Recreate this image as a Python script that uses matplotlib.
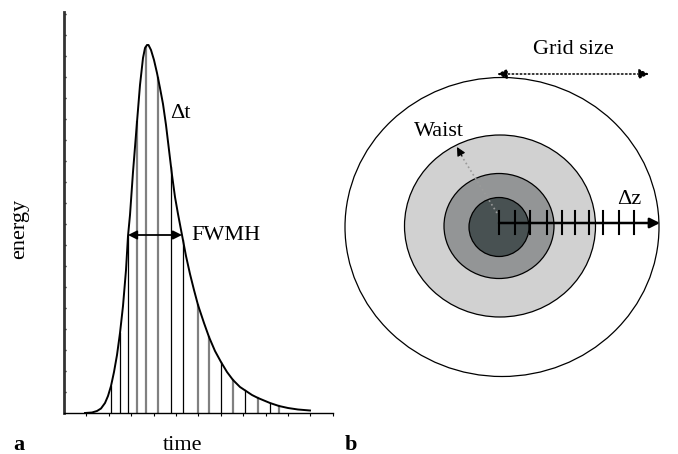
import numpy as np
import matplotlib
matplotlib.use('Agg')
import matplotlib.pyplot as plt
from matplotlib.patches import Ellipse

plt.rcParams['font.family'] = ['Liberation Serif', 'DejaVu Serif']

# --- panel a: pulse shape (time, energy in arbitrary units) ---
pulse_time = [21, 28, 33, 37, 41, 44, 47, 50, 53, 56, 59, 62, 64, 66, 69, 73, 76, 79, 81, 83,
              84.5, 87, 90, 93, 96, 99, 102, 105, 108, 111, 114, 118, 122, 126, 130, 134, 140,
              145, 151, 157, 163, 169, 176, 182, 188, 194, 200, 206, 215, 224, 234, 246]
pulse_energy = [0, 0.5, 2, 4.5, 10, 17, 27, 41, 58, 80, 107, 143, 177, 198, 241, 291, 328, 355,
                365, 368, 368, 363, 353, 340, 325, 309, 288, 263, 238, 216, 199, 178, 157, 139,
                123, 108, 90, 76, 62, 51, 41, 33, 26, 22, 18, 15, 12.5, 10, 7, 5, 3.5, 2.5]
slice_time = [47, 56, 64, 73, 82, 94, 107, 119, 134, 145, 157, 169, 181, 194, 206, 215]
slice_gray = [0, 0, 0, 1, 1, 1, 0, 0, 1, 1, 0, 1, 0, 1, 0, 1]
fwhm_left, fwhm_right, fwhm_level = 64, 118, 178

# --- panel b: beam rings (pixel units of the drawing) ---
ring_w = [314, 191, 110, 60]
ring_h = [299, 182, 105, 59]
ring_cx = [502, 500, 499, 499]
ring_cy = [227, 226, 226, 227]
ring_col = ['white', '#d1d1d1', '#939596', '#485152']
dz_ticks = [499, 515, 530, 547, 562, 575, 589, 603, 619, 634]

W, H = 678, 454
fig = plt.figure(figsize=(W / 100, H / 100), dpi=100)

ax = fig.add_axes([64 / W, 1 - 413 / H, (333 - 64) / W, (413 - 12) / H])
ax.plot(pulse_time, pulse_energy, color='black', lw=1.4, zorder=3)
tops = np.interp(slice_time, pulse_time, pulse_energy)
for t, top, g in zip(slice_time, tops, slice_gray):
    if g:
        ax.plot([t, t], [0, top], color='#808080', lw=1.6)
    else:
        ax.plot([t, t], [0, top], color='black', lw=0.9)
ax.annotate('', xy=(fwhm_left, fwhm_level), xytext=(fwhm_right, fwhm_level),
            arrowprops=dict(arrowstyle='<|-|>', color='black', lw=1.3,
                            mutation_scale=13, shrinkA=0, shrinkB=0), zorder=4)
ax.text(fwhm_right + 9, fwhm_level, 'FWMH', fontsize=16, va='center', ha='left')
ax.text(106, 299, '\u0394t', fontsize=16, va='center', ha='left')

ax.set_xlim(0, 269)
ax.set_ylim(0, 401)
ax.spines['top'].set_visible(False)
ax.spines['right'].set_visible(False)
ax.spines['left'].set_color('#333333')
ax.spines['left'].set_linewidth(2)
ax.spines['bottom'].set_linewidth(1)
ax.set_yticks(np.arange(21, 401, 21))
ax.set_xticks(np.arange(22.4, 269, 22.4))
ax.tick_params(axis='y', direction='in', length=1.5, width=1, labelleft=False)
ax.tick_params(axis='x', direction='out', length=2, width=0.8, labelbottom=False)

fig.text(20 / W, 1 - 229 / H, 'energy', rotation=90, fontsize=16, ha='center', va='center')
fig.text(183 / W, 1 - 445 / H, 'time', fontsize=16, ha='center', va='center')
fig.text(19 / W, 1 - 445 / H, 'a', fontsize=16, fontweight='bold', ha='center', va='center')
fig.text(351 / W, 1 - 445 / H, 'b', fontsize=16, fontweight='bold', ha='center', va='center')

# right panel drawn in pixel coordinates
bx = fig.add_axes([340 / W, 0, (W - 340) / W, 1])
bx.set_xlim(340, W)
bx.set_ylim(H, 0)
bx.axis('off')
for w, h, cx, cy, c in zip(ring_w, ring_h, ring_cx, ring_cy, ring_col):
    bx.add_patch(Ellipse((cx, cy), w, h, facecolor=c, edgecolor='black', lw=0.9))

bx.annotate('', xy=(660, 223), xytext=(499, 223),
            arrowprops=dict(arrowstyle='-|>', color='black', lw=1.8,
                            mutation_scale=15, shrinkA=0, shrinkB=0))
for t in dz_ticks:
    bx.plot([t, t], [211, 234], color='black', lw=1.5)
bx.text(629, 200, '\u0394z', fontsize=16, ha='center', va='center')

# waist (dotted gray)
bx.plot([497, 461], [213, 155], color='#9a9a9a', lw=1.2, ls=':')
bx.annotate('', xy=(457, 147), xytext=(462, 156),
            arrowprops=dict(arrowstyle='-|>', color='black', lw=0.8,
                            mutation_scale=13, shrinkA=0, shrinkB=0))
bx.text(439, 131, 'Waist', fontsize=16, ha='center', va='center')

# grid size
bx.annotate('', xy=(497, 74), xytext=(649, 74),
            arrowprops=dict(arrowstyle='<|-|>', color='black', lw=1.1, ls=':',
                            mutation_scale=15, shrinkA=0, shrinkB=0))
bx.text(573, 49, 'Grid size', fontsize=16, ha='center', va='center')

fig.savefig('out.png', dpi=100)
